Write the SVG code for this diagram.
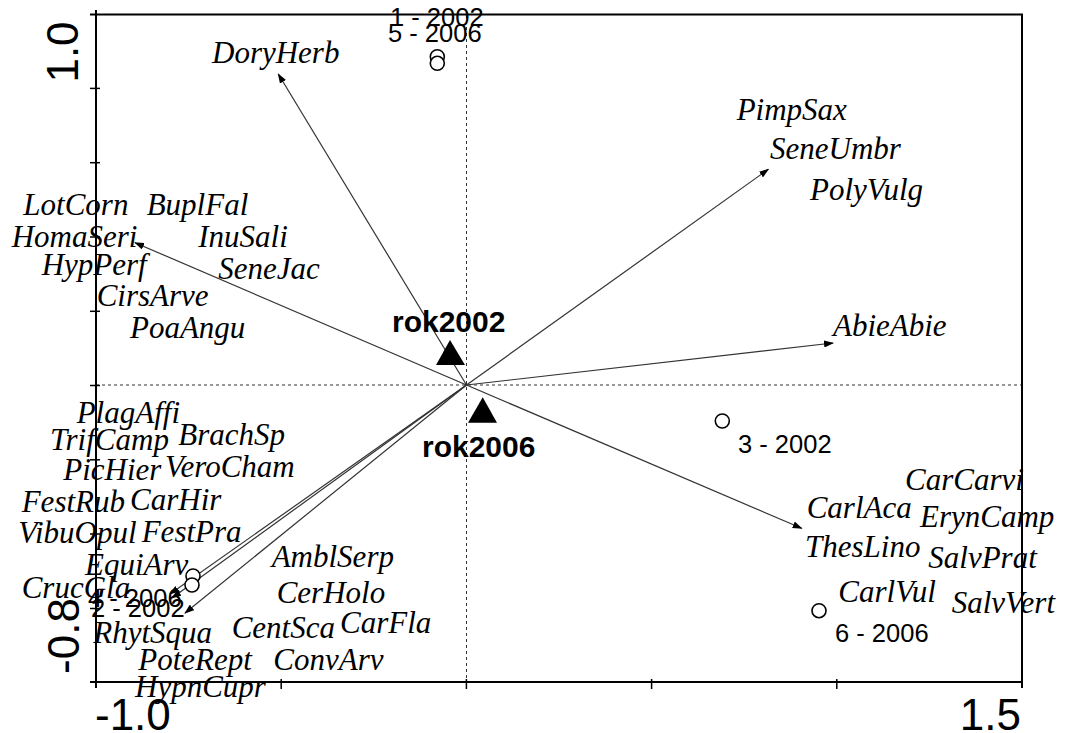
<svg xmlns="http://www.w3.org/2000/svg" width="1066" height="733" viewBox="0 0 1066 733">
<defs>
<marker id="ah" markerWidth="10" markerHeight="7" refX="9" refY="3.5" orient="auto" markerUnits="userSpaceOnUse">
<path d="M0,0 L10,3.5 L0,7 z" fill="#000"/>
</marker>
<style>
.frame{stroke:#000;stroke-width:2;fill:none}
.tick{stroke:#000;stroke-width:1.5}
.dash{stroke:#333;stroke-width:1;stroke-dasharray:3 3;fill:none}
.arr{stroke:#333;stroke-width:1.2;fill:none;marker-end:url(#ah)}
.sp{font-family:"Liberation Serif","Times New Roman",serif;font-style:italic;font-size:31px;fill:#000}
.sm{font-family:"Liberation Sans",Arial,sans-serif;font-size:25.5px;fill:#000}
.ax{font-family:"Liberation Sans",Arial,sans-serif;font-size:44px;fill:#000}
.env{font-family:"Liberation Sans",Arial,sans-serif;font-size:30px;font-weight:bold;fill:#000}
.pt{fill:#fff;stroke:#000;stroke-width:1.6}
</style>
</defs>
<rect width="1066" height="733" fill="#fff"/>
<g id="axes">
<line class="dash" x1="466.5" y1="15" x2="466.5" y2="682"/>
<line class="dash" x1="96" y1="385" x2="1022" y2="385"/>
<path class="frame" d="M90,14.5 H1022 V688 M90,682 H1022 M96,10 V688"/>
<g class="tick">
<line x1="90" y1="88.4" x2="100" y2="88.4"/>
<line x1="90" y1="162.7" x2="100" y2="162.7"/>
<line x1="90" y1="237" x2="100" y2="237"/>
<line x1="90" y1="311.3" x2="100" y2="311.3"/>
<line x1="90" y1="385.5" x2="100" y2="385.5"/>
<line x1="90" y1="459.8" x2="100" y2="459.8"/>
<line x1="90" y1="534" x2="100" y2="534"/>
<line x1="90" y1="608.5" x2="100" y2="608.5"/>
<line x1="281.2" y1="679" x2="281.2" y2="689"/>
<line x1="466.4" y1="679" x2="466.4" y2="689"/>
<line x1="651.6" y1="679" x2="651.6" y2="689"/>
<line x1="836.8" y1="679" x2="836.8" y2="689"/>
</g>
<text class="ax" transform="translate(78,52) rotate(-90)" text-anchor="middle">1.0</text>
<text class="ax" transform="translate(79,636) rotate(-90)" text-anchor="middle">-0.8</text>
<text class="ax" x="95" y="730">-1.0</text>
<text class="ax" x="1021" y="730" text-anchor="end">1.5</text>
</g>
<g id="connectors">
<line class="arr" x1="466.5" y1="385" x2="278.3" y2="74"/>
<line class="arr" x1="466.5" y1="385" x2="135" y2="242.7"/>
<line class="arr" x1="466.5" y1="385" x2="768.3" y2="169.3"/>
<line class="arr" x1="466.5" y1="385" x2="833" y2="343"/>
<line class="arr" x1="466.5" y1="385" x2="801.7" y2="528.3"/>
<line class="arr" x1="466.5" y1="385" x2="170" y2="594"/>
<line class="arr" x1="466.5" y1="385" x2="172" y2="598"/>
<line class="arr" x1="466.5" y1="385" x2="185" y2="613"/>
</g>
<g id="env-rok2002">
<path d="M450,340 L436,365 L465,365 z" fill="#000"/>
<text class="env" x="392" y="332">rok2002</text>
</g>
<g id="env-rok2006">
<path d="M482.7,397.3 L468,422.7 L497,422.7 z" fill="#000"/>
<text class="env" x="422" y="457">rok2006</text>
</g>
<g id="samples">
<g id="s1"><circle class="pt" cx="437.3" cy="56.7" r="7"/><text class="sm" x="390" y="26">1 - 2002</text></g>
<g id="s5"><circle class="pt" cx="437.3" cy="63.3" r="7"/><text class="sm" x="388" y="42">5 - 2006</text></g>
<g id="s3"><circle class="pt" cx="722.3" cy="421" r="7"/><text class="sm" x="738" y="453">3 - 2002</text></g>
<g id="s6"><circle class="pt" cx="819" cy="610.7" r="7"/><text class="sm" x="835" y="641.7">6 - 2006</text></g>
<g id="s4"><circle class="pt" cx="193" cy="576" r="7"/><text class="sm" x="88" y="607">4 - 2006</text></g>
<g id="s2"><circle class="pt" cx="192" cy="585" r="7"/><text class="sm" x="91" y="617">2 - 2002</text></g>
</g>
<g id="species">
<text class="sp" x="212" y="62.7">DoryHerb</text>
<text class="sp" x="736.7" y="120">PimpSax</text>
<text class="sp" x="770" y="159.3">SeneUmbr</text>
<text class="sp" x="810" y="200">PolyVulg</text>
<text class="sp" x="23.3" y="215">LotCorn</text>
<text class="sp" x="146.7" y="215">BuplFal</text>
<text class="sp" x="11.7" y="246.7">HomaSeri</text>
<text class="sp" x="198.3" y="246.7">InuSali</text>
<text class="sp" x="41.7" y="275">HypPerf</text>
<text class="sp" x="218.3" y="279">SeneJac</text>
<text class="sp" x="96.7" y="306">CirsArve</text>
<text class="sp" x="130" y="338">PoaAngu</text>
<text class="sp" x="833" y="336">AbieAbie</text>
<text class="sp" x="76.7" y="423.3">PlagAffi</text>
<text class="sp" x="50" y="450">TrifCamp</text>
<text class="sp" x="178.3" y="445">BrachSp</text>
<text class="sp" x="63.3" y="480">PicHier</text>
<text class="sp" x="165" y="477.3">VeroCham</text>
<text class="sp" x="21.7" y="511.7">FestRub</text>
<text class="sp" x="130" y="510">CarHir</text>
<text class="sp" x="18.3" y="543.3">VibuOpul</text>
<text class="sp" x="141.7" y="541.7">FestPra</text>
<text class="sp" x="85" y="575">EquiArv</text>
<text class="sp" x="271.7" y="566.7">AmblSerp</text>
<text class="sp" x="21.7" y="598.3">CrucGla</text>
<text class="sp" x="276.7" y="603.3">CerHolo</text>
<text class="sp" x="231.7" y="638.3">CentSca</text>
<text class="sp" x="340" y="633.3">CarFla</text>
<text class="sp" x="93.3" y="643.3">RhytSqua</text>
<text class="sp" x="138.3" y="670">PoteRept</text>
<text class="sp" x="273.3" y="670">ConvArv</text>
<text class="sp" x="135" y="696.7">HypnCupr</text>
<text class="sp" x="905" y="490">CarCarvi</text>
<text class="sp" x="806.7" y="518.3">CarlAca</text>
<text class="sp" x="920" y="526.7">ErynCamp</text>
<text class="sp" x="805" y="556.7">ThesLino</text>
<text class="sp" x="928.3" y="568.3">SalvPrat</text>
<text class="sp" x="838.3" y="601.7">CarlVul</text>
<text class="sp" x="951.7" y="613.3">SalvVert</text>
</g>
</svg>
